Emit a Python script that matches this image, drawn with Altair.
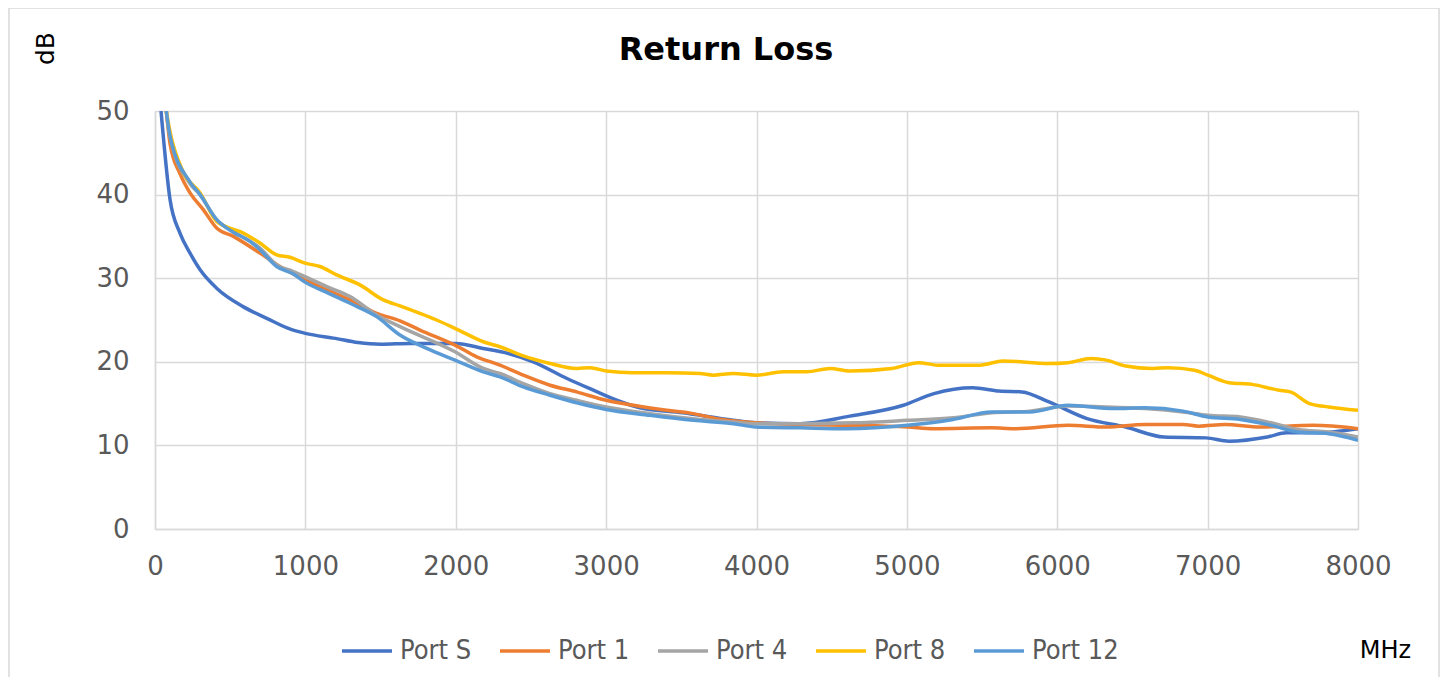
import altair as alt
import pandas as pd

series_names = ["Port S", "Port 1", "Port 4", "Port 8", "Port 12"]
series_colors = ["#4472C4", "#ED7D31", "#A5A5A5", "#FFC000", "#5B9BD5"]

f_S = [40, 100, 166, 233, 300, 410, 585, 743, 900, 1000, 1200, 1350, 1500, 1700, 2000, 2183, 2350, 2515, 2740, 2915, 3070, 3225, 3510, 3845, 4000, 4290, 4620, 4977, 5180, 5436, 5614, 5766, 5945, 6198, 6455, 6710, 6990, 7142, 7397, 7525, 7728, 8000]
v_S = [50, 39.4, 35.4, 33.0, 31.0, 28.8, 26.6, 25.2, 23.9, 23.4, 22.8, 22.3, 22.1, 22.2, 22.2, 21.6, 21.0, 20.0, 18.0, 16.6, 15.4, 14.5, 13.9, 13.0, 12.7, 12.6, 13.5, 14.8, 16.2, 16.9, 16.5, 16.4, 15.2, 13.2, 12.2, 11.0, 10.9, 10.5, 11.0, 11.5, 11.5, 12.0]

f_1 = [75, 100, 166, 233, 321, 410, 521, 698, 831, 998, 1142, 1297, 1474, 1629, 1762, 1995, 2139, 2294, 2449, 2627, 2804, 3000, 3181, 3403, 3580, 3735, 3997, 4290, 4622, 5003, 5180, 5563, 5716, 6072, 6327, 6582, 6836, 6940, 7116, 7347, 7703, 8000]
v_1 = [50, 46.1, 42.5, 40.2, 38.2, 36.0, 35.0, 33.0, 31.4, 29.8, 28.6, 27.4, 25.8, 24.9, 23.8, 22.0, 20.6, 19.6, 18.4, 17.2, 16.4, 15.4, 14.8, 14.2, 13.8, 13.2, 12.7, 12.5, 12.4, 12.2, 12.0, 12.1, 12.0, 12.4, 12.2, 12.5, 12.5, 12.3, 12.5, 12.2, 12.4, 12.0]

f_4 = [75, 100, 233, 299, 410, 521, 698, 809, 920, 998, 1142, 1297, 1474, 1629, 1995, 2183, 2294, 2449, 2627, 2804, 3000, 3292, 3580, 3846, 3997, 4290, 4645, 5003, 5307, 5563, 5818, 6072, 6327, 6582, 6836, 7002, 7219, 7422, 7601, 7805, 8000]
v_4 = [50, 46.9, 41.3, 40.0, 37.0, 35.6, 33.6, 31.6, 30.8, 30.2, 29.0, 27.8, 25.6, 24.2, 21.2, 19.2, 18.6, 17.4, 16.2, 15.4, 14.6, 13.8, 13.2, 12.8, 12.6, 12.6, 12.7, 13.0, 13.3, 13.9, 14.1, 14.7, 14.6, 14.4, 14.0, 13.6, 13.4, 12.7, 11.9, 11.6, 11.0]

f_8 = [75, 100, 188, 300, 410, 587, 698, 809, 898, 998, 1097, 1208, 1363, 1518, 1629, 1762, 1873, 1995, 2183, 2294, 2449, 2627, 2804, 2893, 3000, 3181, 3403, 3624, 3713, 3846, 3997, 4178, 4333, 4489, 4622, 4901, 5079, 5206, 5486, 5639, 5945, 6072, 6224, 6327, 6455, 6633, 6735, 6913, 7002, 7142, 7295, 7474, 7550, 7678, 7805, 8000]
v_8 = [50, 47.5, 42.7, 40.2, 36.8, 35.4, 34.2, 32.8, 32.5, 31.8, 31.4, 30.4, 29.2, 27.4, 26.7, 25.8, 25.0, 24.0, 22.4, 21.8, 20.7, 19.8, 19.2, 19.3, 18.9, 18.7, 18.7, 18.6, 18.4, 18.6, 18.4, 18.8, 18.8, 19.2, 18.9, 19.2, 19.9, 19.6, 19.6, 20.1, 19.8, 19.9, 20.4, 20.2, 19.5, 19.2, 19.3, 19.0, 18.4, 17.5, 17.3, 16.6, 16.4, 15.0, 14.6, 14.2]

f_12 = [75, 100, 233, 300, 410, 521, 632, 698, 809, 920, 1000, 1142, 1297, 1474, 1629, 1807, 1995, 2183, 2294, 2449, 2627, 2804, 3000, 3292, 3580, 3846, 3997, 4290, 4595, 5003, 5307, 5563, 5818, 6072, 6378, 6582, 6836, 7002, 7219, 7422, 7601, 7805, 8000]
v_12 = [50, 47.0, 41.5, 40.0, 37.0, 35.5, 34.4, 33.4, 31.4, 30.5, 29.5, 28.3, 27.0, 25.4, 23.2, 21.6, 20.2, 18.8, 18.2, 17.0, 16.0, 15.1, 14.3, 13.6, 13.0, 12.6, 12.2, 12.1, 12.0, 12.4, 13.1, 14.0, 14.0, 14.8, 14.4, 14.5, 14.1, 13.4, 13.1, 12.4, 11.6, 11.4, 10.6]

x_ticks = [0, 1000, 2000, 3000, 4000, 5000, 6000, 7000, 8000]
y_ticks = [0, 10, 20, 30, 40, 50]
title_text = "Return Loss"

rows = []
for name, fs, vs in zip(series_names, [f_S, f_1, f_4, f_8, f_12], [v_S, v_1, v_4, v_8, v_12]):
    for i, (f, v) in enumerate(zip(fs, vs)):
        rows.append({"series": name, "freq": f, "db": v, "idx": i})
df = pd.DataFrame(rows)

TICK_FONT = "DejaVu Sans"
LEG_FONT = "Liberation Sans Narrow, DejaVu Sans Condensed, sans-serif"

lines = alt.Chart(df).mark_line(strokeWidth=3.5, interpolate="monotone", clip=True).encode(
    x=alt.X("freq:Q",
            scale=alt.Scale(domain=[0, 8000], nice=False, zero=False),
            axis=alt.Axis(values=x_ticks, title="MHz", format="d", labelFlush=False,
                          titleX=1230, titleY=121, titleAlign="center", titleBaseline="middle",
                          titleFont=TICK_FONT, titleFontSize=24, titleFontWeight="normal",
                          titleColor="#000000",
                          labelFont=TICK_FONT, labelFontSize=26, labelColor="#595959",
                          labelPadding=24, ticks=False, domainColor="#D9D9D9",
                          domainWidth=1.5, gridColor="#D9D9D9", gridWidth=1.5)),
    y=alt.Y("db:Q",
            scale=alt.Scale(domain=[0, 50], nice=False),
            axis=alt.Axis(values=y_ticks, title="dB", labelFlush=False,
                          titleX=-110, titleY=-63, titleAlign="center", titleBaseline="middle",
                          titleAngle=270,
                          titleFont=TICK_FONT, titleFontSize=25, titleFontWeight="normal",
                          titleColor="#000000",
                          labelFont=TICK_FONT, labelFontSize=26, labelColor="#595959",
                          labelPadding=26, ticks=False, domainColor="#D9D9D9",
                          domainWidth=1.5, gridColor="#D9D9D9", gridWidth=1.5)),
    color=alt.Color("series:N",
                    scale=alt.Scale(domain=series_names, range=series_colors),
                    legend=alt.Legend(title=None, orient="none", direction="horizontal",
                                      legendX=185, legendY=513,
                                      symbolType="stroke", symbolSize=2500,
                                      symbolStrokeWidth=3.5, labelFont=LEG_FONT,
                                      labelFontSize=27, labelColor="#595959",
                                      labelOffset=6, columnPadding=21, labelLimit=200)),
    order=alt.Order("idx:Q"),
)

border = alt.Chart(pd.DataFrame({"k": [0]})).mark_rect(
    fill=None, stroke="#D9D9D9", strokeWidth=1.5, clip=False
).encode(
    x=alt.value(-146), x2=alt.value(1284), y=alt.value(-103), y2=alt.value(600)
)

title = alt.Chart(pd.DataFrame({"t": [title_text]})).mark_text(
    font=TICK_FONT, fontSize=32, fontWeight="bold", color="#000000",
    align="center", baseline="middle", clip=False
).encode(
    x=alt.value(571), y=alt.value(-61), text="t:N"
)

chart = alt.layer(border, lines, title).properties(
    width=1203,
    height=418,
    autosize=alt.AutoSizeParams(type="none"),
    padding={"left": 147, "top": 103, "right": 82, "bottom": 148},
).configure_view(stroke=None).configure(background="#FFFFFF")

chart.save("out.html", embed_options={"renderer": "svg", "actions": False})
